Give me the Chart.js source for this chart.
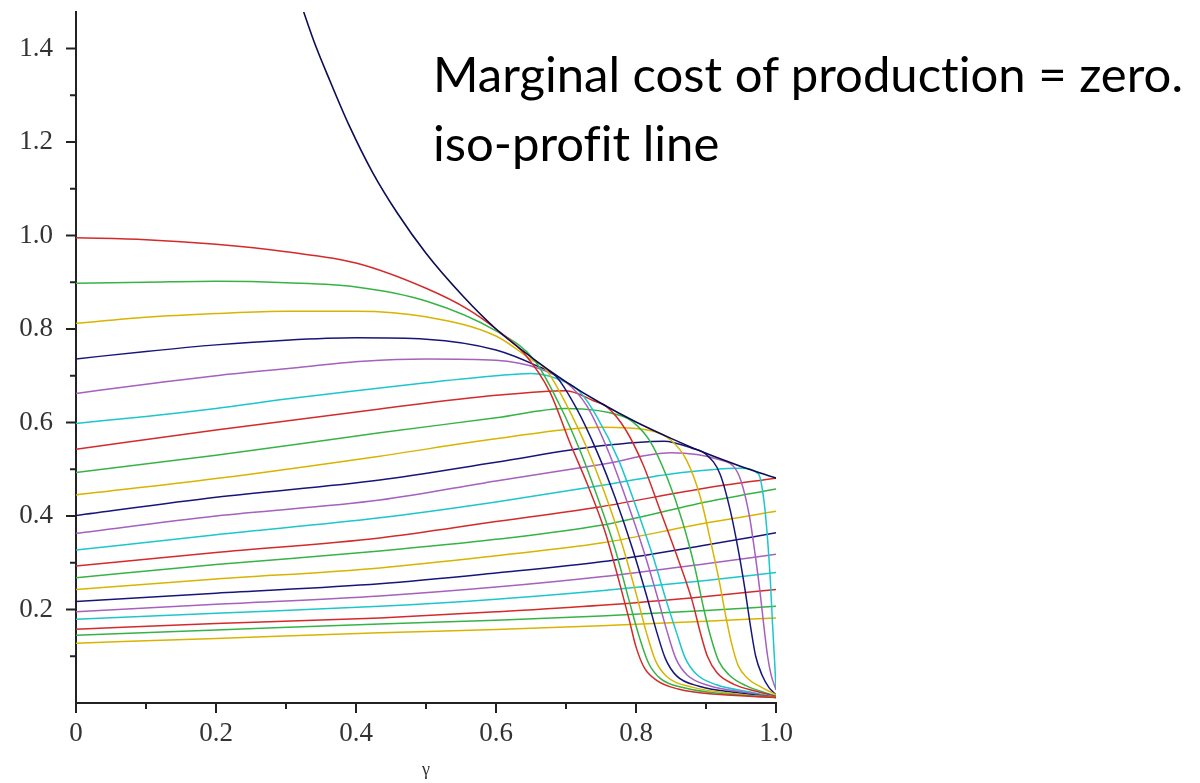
<!DOCTYPE html>
<html>
<head>
<meta charset="utf-8">
<script src="https://cdn.jsdelivr.net/npm/chart.js@4.4.1/dist/chart.umd.min.js"></script>
<style>
  html, body { margin: 0; padding: 0; background: #fff; }
  #wrap { position: relative; width: 1200px; height: 783px; overflow: hidden; }
  #plot { position: absolute; left: 0; top: 0; }
  .note { position: absolute; left: 433px; font-family: Lato, "Open Sans", sans-serif; color: #000;
          white-space: nowrap; line-height: 1; font-variant-ligatures: none; font-feature-settings: "liga" 0; }
</style>
</head>
<body>
<div id="wrap">
  <canvas id="plot" width="1200" height="783"></canvas>
  <div class="note" id="note1">Marginal cost of production = zero.</div>
  <div class="note" id="note2">iso-profit line</div>
</div>
<script>
// Axis ticks
const gammaTicks = [0, 0.2, 0.4, 0.6, 0.8, 1.0];
const gammaMinorTicks = [0.1, 0.3, 0.5, 0.7, 0.9];
const valueTicks = [0.2, 0.4, 0.6, 0.8, 1.0, 1.2, 1.4];
const valueMinorTicks = [0.1, 0.3, 0.5, 0.7, 0.9, 1.1, 1.3];

// Envelope of the iso-profit family
const envelope = [[0.318,1.51],[0.34,1.415],[0.363,1.33],[0.39,1.236],[0.424,1.134],[0.459,1.048],[0.50,0.962],
  [0.553,0.87],[0.60,0.80],[0.65,0.74],[0.70,0.687],[0.75,0.641],[0.80,0.601],[0.85,0.566],[0.90,0.534],
  [0.95,0.506],[1.0,0.481]];

// Iso-profit lines, [gamma, value] pairs
const iso01 = [[0,0.995],[0.1,0.991],[0.2,0.981],[0.3,0.965],[0.4,0.941],[0.5,0.887],[0.56,0.842],[0.60,0.80],
  [0.64,0.748],[0.677,0.665],[0.706,0.555],[0.73,0.47],[0.755,0.37],[0.775,0.265],[0.79,0.18],[0.80,0.12],
  [0.812,0.075],[0.83,0.048],[0.86,0.03],[0.92,0.018],[1,0.012]];
const iso02 = [[0,0.898],[0.1,0.90],[0.2,0.902],[0.3,0.899],[0.4,0.89],[0.5,0.86],[0.6,0.796],[0.655,0.733],
  [0.69,0.64],[0.72,0.54],[0.745,0.44],[0.77,0.33],[0.79,0.22],[0.805,0.14],[0.818,0.085],[0.835,0.052],
  [0.87,0.032],[0.93,0.019],[1,0.012]];
const iso03 = [[0,0.812],[0.1,0.825],[0.2,0.833],[0.3,0.838],[0.4,0.838],[0.5,0.826],[0.6,0.785],[0.65,0.735],
  [0.67,0.716],[0.70,0.64],[0.73,0.545],[0.755,0.45],[0.78,0.34],[0.80,0.235],[0.815,0.15],[0.828,0.09],
  [0.845,0.055],[0.88,0.034],[0.94,0.02],[1,0.012]];
const iso04 = [[0,0.736],[0.1,0.752],[0.2,0.766],[0.3,0.776],[0.4,0.781],[0.5,0.778],[0.6,0.755],[0.66,0.72],
  [0.685,0.70],[0.715,0.63],[0.745,0.535],[0.77,0.44],[0.795,0.33],[0.815,0.23],[0.83,0.15],[0.842,0.095],
  [0.858,0.058],[0.89,0.036],[0.95,0.021],[1,0.012]];
const iso05 = [[0,0.662],[0.1,0.682],[0.2,0.70],[0.3,0.715],[0.41,0.731],[0.5,0.736],[0.6,0.733],[0.66,0.716],
  [0.70,0.686],[0.73,0.635],[0.76,0.54],[0.785,0.44],[0.81,0.33],[0.83,0.23],[0.845,0.15],[0.857,0.095],
  [0.873,0.06],[0.905,0.037],[0.96,0.022],[1,0.012]];
const iso06 = [[0,0.598],[0.1,0.613],[0.2,0.63],[0.3,0.65],[0.4,0.668],[0.5,0.685],[0.6,0.70],[0.65,0.705],
  [0.70,0.686],[0.72,0.665],[0.745,0.61],[0.775,0.52],[0.80,0.42],[0.825,0.31],[0.843,0.22],[0.858,0.15],
  [0.87,0.097],[0.886,0.062],[0.915,0.039],[0.965,0.023],[1,0.012]];
const iso07 = [[0,0.543],[0.2,0.584],[0.434,0.629],[0.6,0.658],[0.7,0.668],[0.74,0.646],[0.758,0.634],[0.785,0.585],
  [0.81,0.51],[0.835,0.41],[0.862,0.30],[0.88,0.22],[0.892,0.15],[0.902,0.10],[0.916,0.064],[0.94,0.04],
  [0.972,0.025],[1,0.014]];
const iso08 = [[0,0.493],[0.2,0.53],[0.434,0.578],[0.6,0.61],[0.7,0.63],[0.78,0.614],[0.795,0.602],[0.82,0.56],
  [0.845,0.48],[0.866,0.39],[0.884,0.29],[0.897,0.20],[0.907,0.14],[0.918,0.09],[0.933,0.06],[0.957,0.037],[1,0.015]];
const iso09 = [[0,0.445],[0.2,0.48],[0.434,0.528],[0.6,0.565],[0.75,0.59],[0.82,0.583],[0.85,0.562],[0.872,0.52],
  [0.892,0.44],[0.906,0.35],[0.919,0.26],[0.929,0.18],[0.937,0.125],[0.946,0.08],[0.96,0.052],[0.98,0.033],[1,0.018]];
const iso10 = [[0,0.401],[0.2,0.44],[0.434,0.477],[0.6,0.515],[0.75,0.55],[0.84,0.56],[0.88,0.545],[0.90,0.532],
  [0.92,0.49],[0.935,0.41],[0.947,0.32],[0.956,0.24],[0.964,0.16],[0.971,0.10],[0.98,0.06],[0.99,0.033],[1,0.018]];
const iso11 = [[0,0.363],[0.2,0.40],[0.434,0.434],[0.6,0.475],[0.75,0.51],[0.85,0.535],[0.92,0.52],[0.94,0.505],
  [0.95,0.475],[0.962,0.40],[0.97,0.32],[0.977,0.24],[0.983,0.16],[0.988,0.10],[0.993,0.06],[1,0.028]];
const iso12 = [[0,0.327],[0.2,0.36],[0.434,0.396],[0.6,0.43],[0.75,0.465],[0.85,0.49],[0.95,0.502],[0.975,0.49],
  [0.983,0.43],[0.988,0.35],[0.992,0.26],[0.995,0.17],[0.998,0.09],[1,0.03]];
const iso13 = [[0,0.293],[0.2,0.322],[0.434,0.353],[0.6,0.388],[0.75,0.42],[0.9,0.46],[1,0.481]];
const iso14 = [[0,0.268],[0.2,0.296],[0.434,0.325],[0.6,0.350],[0.75,0.380],[0.9,0.43],[1,0.458]];
const iso15 = [[0,0.243],[0.2,0.265],[0.434,0.289],[0.6,0.315],[0.75,0.342],[0.9,0.385],[1,0.41]];
const iso16 = [[0,0.217],[0.2,0.235],[0.434,0.255],[0.6,0.278],[0.75,0.302],[0.9,0.338],[1,0.364]];
const iso17 = [[0,0.195],[0.2,0.211],[0.434,0.229],[0.6,0.248],[0.75,0.270],[0.9,0.298],[1,0.318]];
const iso18 = [[0,0.179],[0.2,0.192],[0.434,0.207],[0.6,0.222],[0.75,0.240],[0.9,0.262],[1,0.279]];
const iso19 = [[0,0.158],[0.2,0.170],[0.434,0.182],[0.6,0.195],[0.75,0.209],[0.9,0.228],[1,0.243]];
const iso20 = [[0,0.145],[0.2,0.156],[0.434,0.169],[0.6,0.177],[0.75,0.186],[0.9,0.198],[1,0.207]];
const iso21 = [[0,0.128],[0.2,0.138],[0.434,0.150],[0.6,0.157],[0.75,0.165],[0.9,0.175],[1,0.182]];

const isoLines = [iso01, iso02, iso03, iso04, iso05, iso06, iso07, iso08, iso09, iso10, iso11,
  iso12, iso13, iso14, iso15, iso16, iso17, iso18, iso19, iso20, iso21];
const lineColors = ['#d42a2a', '#35b445', '#d8b400', '#16167a', '#a660bd', '#1cc6cc'];
const envelopeColor = '#0c0c55';

const toPoints = arr => arr.map(([x, y]) => ({ x, y }));

const datasets = [{
  label: 'envelope',
  data: toPoints(envelope),
  borderColor: envelopeColor,
  borderWidth: 1.6
}].concat(isoLines.map((arr, i) => ({
  label: 'iso-profit ' + (i + 1),
  data: toPoints(arr),
  borderColor: lineColors[i % lineColors.length],
  borderWidth: 1.5
})));

const axisColor = '#222';
const tickFont = { family: '"Liberation Serif", serif', size: 27 };

// Maple-style outside tick marks, major and minor
const axisTickMarks = {
  id: 'axisTickMarks',
  afterDraw(chart) {
    const { ctx, scales: { x, y } } = chart;
    const x0 = x.getPixelForValue(0);
    const y0 = y.getPixelForValue(0);
    ctx.save();
    ctx.strokeStyle = axisColor;
    ctx.lineWidth = 2;
    ctx.beginPath();
    gammaTicks.forEach(v => { const px = x.getPixelForValue(v); ctx.moveTo(px, y0); ctx.lineTo(px, y0 + 10); });
    gammaMinorTicks.forEach(v => { const px = x.getPixelForValue(v); ctx.moveTo(px, y0); ctx.lineTo(px, y0 + 6); });
    valueTicks.forEach(v => { const py = y.getPixelForValue(v); ctx.moveTo(x0, py); ctx.lineTo(x0 - 10, py); });
    valueMinorTicks.forEach(v => { const py = y.getPixelForValue(v); ctx.moveTo(x0, py); ctx.lineTo(x0 - 6, py); });
    ctx.stroke();
    ctx.restore();
  }
};

new Chart(document.getElementById('plot'), {
  type: 'scatter',
  data: { datasets },
  options: {
    responsive: false,
    animation: false,
    devicePixelRatio: 1,
    showLine: true,
    elements: {
      point: { radius: 0, hoverRadius: 0 },
      line: { cubicInterpolationMode: 'monotone', fill: false }
    },
    layout: { padding: { left: 0, right: 424, top: 12, bottom: 0 } },
    plugins: { legend: { display: false }, tooltip: { enabled: false } },
    scales: {
      x: {
        type: 'linear', min: 0, max: 1,
        afterBuildTicks: s => { s.ticks = gammaTicks.map(v => ({ value: v })); },
        afterFit: s => { s.height = 80; s.paddingLeft = 0; s.paddingRight = 0; },
        grid: { display: false, tickLength: 10 },
        border: { display: true, color: axisColor, width: 2 },
        ticks: {
          autoSkip: false, maxRotation: 0, padding: 5, color: '#333', font: tickFont,
          callback: v => (v === 0 ? '0' : v.toFixed(1))
        },
        title: {
          display: true, text: 'γ', color: '#333',
          font: { family: '"Liberation Serif", serif', size: 18 },
          padding: { top: 0, bottom: 2 }
        }
      },
      y: {
        type: 'linear', min: 0, max: 1.478,
        afterBuildTicks: s => { s.ticks = valueTicks.map(v => ({ value: v })); },
        afterFit: s => { s.width = 76; s.paddingTop = 0; s.paddingBottom = 0; },
        grid: { display: false, tickLength: 10 },
        border: { display: true, color: axisColor, width: 2 },
        ticks: {
          autoSkip: false, padding: 13, color: '#333', font: tickFont,
          callback: v => v.toFixed(1)
        }
      }
    }
  },
  plugins: [axisTickMarks]
});

// Size the annotation so its first line spans the space beside the plot
(function fitNotes() {
  const n1 = document.getElementById('note1');
  const n2 = document.getElementById('note2');
  const meas = document.createElement('canvas').getContext('2d');
  meas.font = '100px Lato';
  const w = meas.measureText(n1.textContent).width;
  const size = 100 * 752 / w;
  [n1, n2].forEach(n => { n.style.fontSize = size + 'px'; });
  n1.style.top = (88 - 0.80 * size) + 'px';
  n2.style.top = (157 - 0.80 * size) + 'px';
})();
</script>
</body>
</html>
